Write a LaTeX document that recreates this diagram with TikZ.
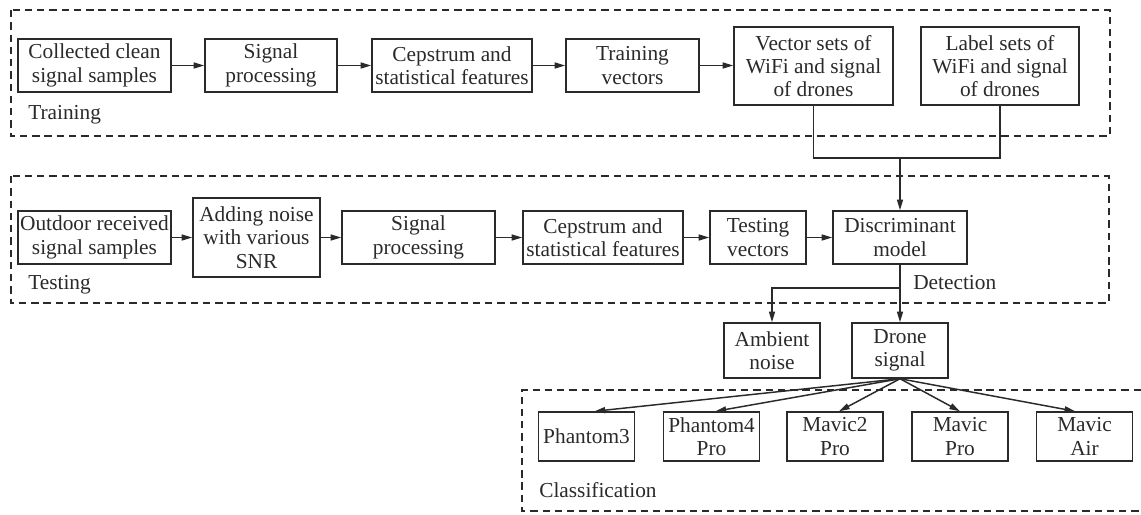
\documentclass[tikz,border=0pt]{standalone}
\usepackage{fontspec}
\setmainfont{Liberation Serif}
\usetikzlibrary{arrows.meta}
\definecolor{ink}{HTML}{2A2A2A}
\tikzset{
  box/.style={draw=ink, line width=1.1pt, inner sep=0pt, align=center, font=\fontsize{16pt}{17.5pt}\selectfont, text=ink},
  grp/.style={draw=ink, line width=1.1pt, dash pattern=on 5.5pt off 3.7pt},
  conn/.style={draw=ink, line width=1.1pt},
  arr/.style={conn, -{Triangle[length=8pt,width=4.5pt]}},
  lab/.style={anchor=west, inner sep=0pt, font=\fontsize{16pt}{17.5pt}\selectfont, text=ink},
}
\begin{document}
\begin{tikzpicture}[x=0.75pt, y=-0.75pt]
\useasboundingbox (0,0) rectangle (1141,514);
% group frames
\draw[grp] (11,10) rectangle (1110,136);
\draw[grp] (11,176) rectangle (1109,303);
\draw[grp] (1141,390) -- (522,390) -- (522,511) -- (1141,511);
\node[lab] (ltrain) at (28,115) {Training};
\node[lab] (ltest) at (28,285) {Testing};
\node[lab] (lclass) at (539,490) {Classification};
\node[lab] (ldet) at (913,283) {Detection};
% training row
\node[box, minimum width=153*0.75pt, minimum height=53*0.75pt] (col) at (94.5,65.5) {Collected clean\\signal samples};
\node[box, minimum width=132*0.75pt, minimum height=53*0.75pt] (spa) at (271,65.5) {Signal\\processing};
\node[box, minimum width=160*0.75pt, minimum height=53*0.75pt] (cepa) at (452,65.5) {Cepstrum and\\statistical features};
\node[box, minimum width=133*0.75pt, minimum height=53*0.75pt] (tva) at (632.5,65.5) {Training\\vectors};
\node[box, minimum width=159*0.75pt, minimum height=78*0.75pt] (vs) at (813.5,66) {Vector sets of\\WiFi and signal\\of drones};
\node[box, minimum width=158*0.75pt, minimum height=78*0.75pt] (ls) at (1000,66) {Label sets of\\WiFi and signal\\of drones};
% testing row
\node[box, minimum width=153*0.75pt, minimum height=53*0.75pt] (out) at (94.5,237.5) {Outdoor received\\signal samples};
\node[box, minimum width=127*0.75pt, minimum height=79*0.75pt] (add) at (256.5,237.5) {Adding noise\\with various\\SNR};
\node[box, minimum width=153*0.75pt, minimum height=53*0.75pt] (spb) at (418.5,237.5) {Signal\\processing};
\node[box, minimum width=160*0.75pt, minimum height=53*0.75pt] (cepb) at (603,237.5) {Cepstrum and\\statistical features};
\node[box, minimum width=96*0.75pt, minimum height=53*0.75pt] (tvb) at (758,237.5) {Testing\\vectors};
\node[box, minimum width=134*0.75pt, minimum height=53*0.75pt] (disc) at (900,237.5) {Discriminant\\model};
% detection outputs
\node[box, minimum width=96*0.75pt, minimum height=55*0.75pt] (amb) at (772,350.5) {Ambient\\noise};
\node[box, minimum width=96*0.75pt, minimum height=55*0.75pt] (drone) at (900,350.5) {Drone\\signal};
% classification
\node[box, minimum width=96*0.75pt, minimum height=49*0.75pt] (p3) at (586.5,436.5) {Phantom3};
\node[box, minimum width=96*0.75pt, minimum height=49*0.75pt] (p4) at (711.5,436.5) {Phantom4\\Pro};
\node[box, minimum width=96*0.75pt, minimum height=49*0.75pt] (m2) at (835,436.5) {Mavic2\\Pro};
\node[box, minimum width=96*0.75pt, minimum height=49*0.75pt] (mp) at (960,436.5) {Mavic\\Pro};
\node[box, minimum width=96*0.75pt, minimum height=49*0.75pt] (ma) at (1084.5,436.5) {Mavic\\Air};
% connectors
\coordinate (jn) at (900,158);
\coordinate (br) at (900,288);
\draw[arr] (col) -- (spa);
\draw[arr] (spa) -- (cepa);
\draw[arr] (cepa) -- (tva);
\draw[arr] (tva.east) -- (vs.west |- tva.east);
\draw[conn] (vs.south) |- (jn) -| (ls.south);
\draw[arr] (jn) -- (disc.north);
\draw[arr] (out) -- (add);
\draw[arr] (add) -- (spb);
\draw[arr] (spb) -- (cepb);
\draw[arr] (cepb) -- (tvb);
\draw[arr] (tvb) -- (disc);
\draw[arr] (disc.south) -- (drone.north);
\draw[arr] (br) -| (amb.north);
\draw[arr] (drone.south) -- ([xshift=6pt]p3.north);
\draw[arr] (drone.south) -- ([xshift=3pt]p4.north);
\draw[arr] (drone.south) -- ([xshift=3pt]m2.north);
\draw[arr] (drone.south) -- (mp.north);
\draw[arr] (drone.south) -- ([xshift=-7pt]ma.north);
\end{tikzpicture}
\end{document}
